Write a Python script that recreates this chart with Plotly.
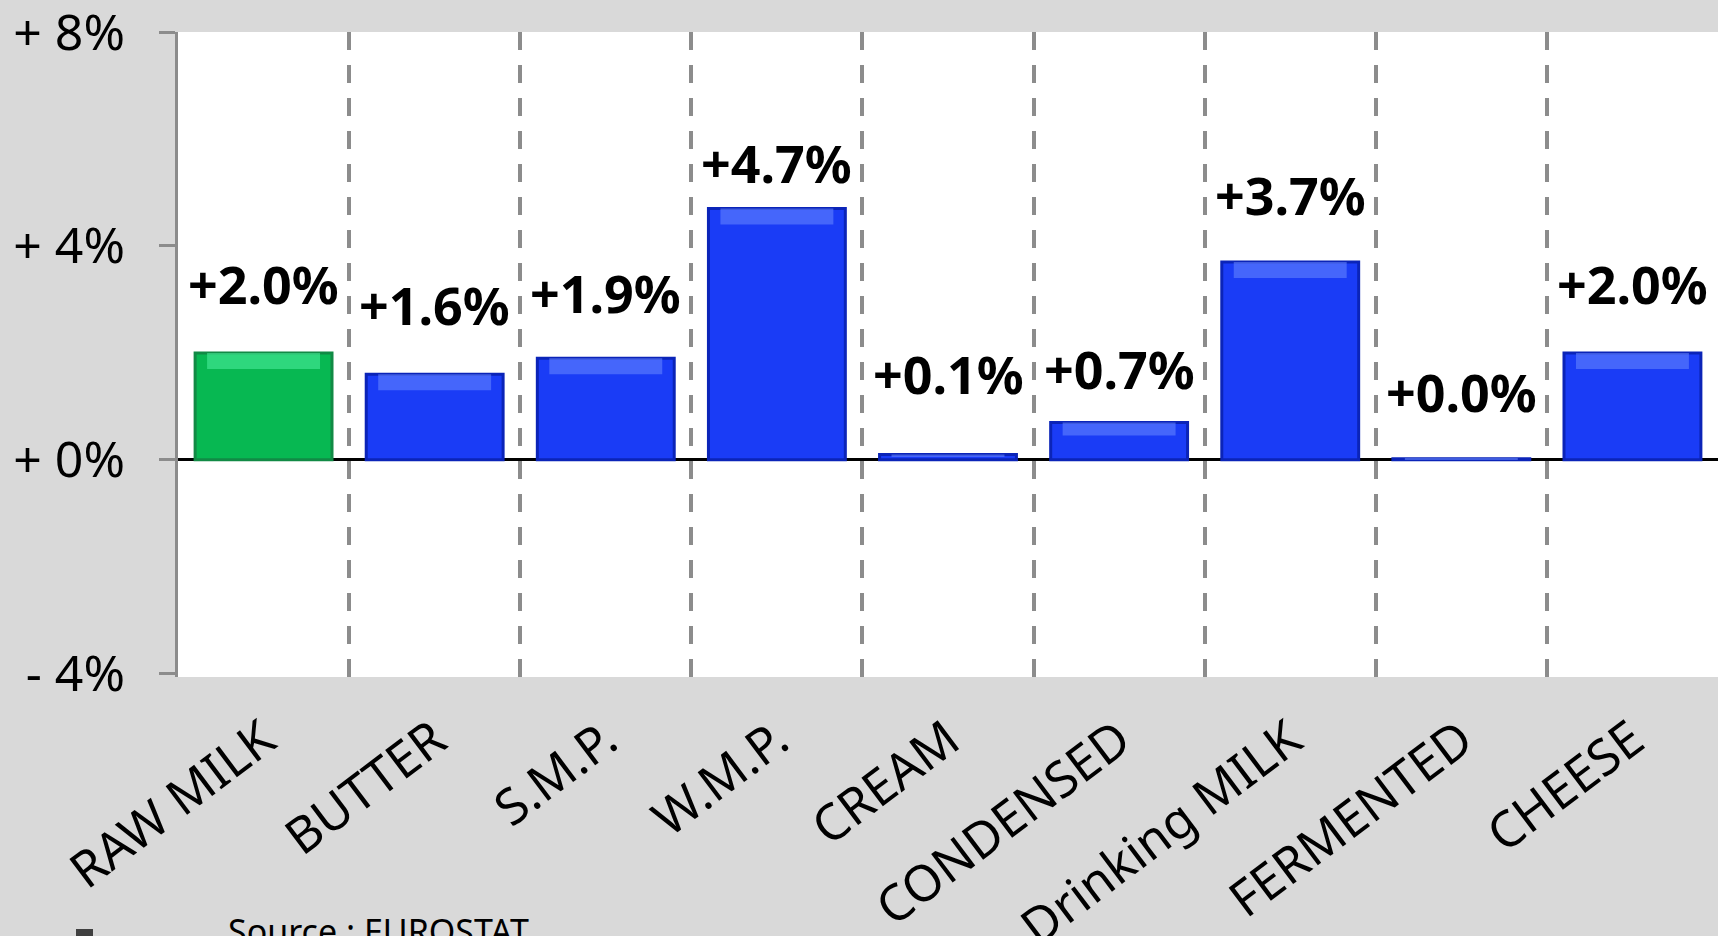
import plotly.graph_objects as go

# ---- data ----
categories = ["RAW MILK", "BUTTER", "S.M.P.", "W.M.P.", "CREAM", "CONDENSED",
              "Drinking MILK", "FERMENTED", "CHEESE"]
changes = [2.0, 1.6, 1.9, 4.7, 0.1, 0.7, 3.7, 0.02, 2.0]
label_texts = ["+2.0%", "+1.6%", "+1.9%", "+4.7%", "+0.1%", "+0.7%", "+3.7%", "+0.0%", "+2.0%"]
y_tick_values = [-4, 0, 4, 8]
y_tick_labels = ["- 4%", "+ 0%", "+ 4%", "+ 8%"]
source_text = "Source : EUROSTAT"

# ---- style ----
W, H = 1718, 936
M_L, M_R, M_T, M_B = 178, 0, 32, 259
BLUE, BLUE_EDGE, BLUE_HI = "#1a3cf6", "#0b24b8", "#6a88ff"
GREEN, GREEN_EDGE, GREEN_HI = "#07b852", "#118a45", "#4ff0a0"
FONT = "Noto Sans"
LABEL_SHIFT = 27
LABEL_NUDGE = [5, 5, 1, -19, 17, -11, 3, 3, 5]   # pixel tweaks for value labels

xs = list(range(len(categories)))
fill = [GREEN if i == 0 else BLUE for i in xs]
edge = [GREEN_EDGE if i == 0 else BLUE_EDGE for i in xs]
hi = [GREEN_HI if i == 0 else BLUE_HI for i in xs]

fig = go.Figure()
fig.add_trace(go.Bar(
    x=xs, y=changes, width=0.8,
    marker=dict(color=fill, line=dict(color=edge, width=3)),
    hoverinfo="skip", showlegend=False,
))
# top highlight band (bevel effect), derived from the values
hl_h = [min(0.3, 0.35 * v) for v in changes]
fig.add_trace(go.Bar(
    x=xs, y=hl_h, base=[v - h for v, h in zip(changes, hl_h)], width=0.66,
    marker=dict(color=hi, opacity=0.55, line=dict(width=0)),
    hoverinfo="skip", showlegend=False,
))

for i, (v, t) in enumerate(zip(changes, label_texts)):
    fig.add_annotation(x=i, y=v, text=t, showarrow=False, yanchor="bottom",
                       yshift=LABEL_SHIFT + LABEL_NUDGE[i],
                       font=dict(family=FONT, size=52, color="black", weight="bold"))

plot_h = H - M_T - M_B
plot_w = W - M_L - M_R
fig.add_annotation(xref="paper", yref="paper", x=(226 - M_L) / plot_w,
                   y=-(906 - (H - M_B)) / plot_h, xanchor="left", yanchor="top",
                   text=source_text, showarrow=False,
                   font=dict(family=FONT, size=34, color="black"))
fig.add_shape(type="rect", xref="paper", yref="paper",
              x0=(76 - M_L) / plot_w, x1=(93 - M_L) / plot_w,
              y0=-(936 - (H - M_B)) / plot_h, y1=-(929 - (H - M_B)) / plot_h,
              fillcolor="#404040", line=dict(width=0))

fig.update_layout(
    width=W, height=H, autosize=False,
    margin=dict(l=M_L, r=M_R, t=M_T, b=M_B, pad=0, autoexpand=False),
    paper_bgcolor="#d9d9d9", plot_bgcolor="white",
    barmode="overlay", bargap=0.2,
    font=dict(family=FONT, color="black"),
)
fig.update_xaxes(
    range=[-0.5, len(categories) - 0.5], tickmode="array", tickvals=xs,
    ticktext=categories, tickangle=-37, tickfont=dict(size=50),
    showgrid=False, showline=False, zeroline=False, ticks="",
    ticklabelstandoff=23, automargin=False, ticklabeloverflow="allow",
    minor=dict(tickmode="array", tickvals=[i + 0.5 for i in xs[:-1]],
               showgrid=True, gridcolor="#8c8c8c", gridwidth=4, griddash="18px,15px"),
)
fig.update_yaxes(
    range=[-4.06, 8.0], tickmode="array", tickvals=y_tick_values, ticktext=y_tick_labels,
    tickfont=dict(size=50), showgrid=False, automargin=False, ticklabeloverflow="allow",
    showline=True, linecolor="#8c8c8c", linewidth=3,
    ticks="outside", ticklen=16, tickwidth=3, tickcolor="#8c8c8c",
    zeroline=True, zerolinecolor="black", zerolinewidth=3,
    ticklabelstandoff=24,
)

fig.write_html("out.html", config={"displayModeBar": False},
               post_script="document.body.style.margin='0';document.body.style.overflow='hidden';")
